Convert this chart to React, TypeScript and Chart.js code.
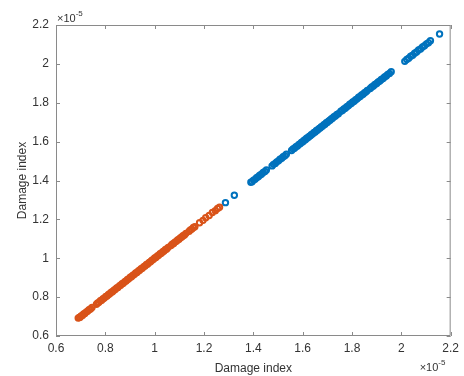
import React, { useEffect, useRef } from "react";
import { Chart, registerables } from "chart.js";

Chart.register(...registerables);

// Values in units of 1e-5
const orangeX = [
  0.690, 0.694, 0.698, 0.702, 0.707, 0.712, 0.717, 0.722, 0.728, 0.734, 0.740, 0.746,
  0.764, 0.769, 0.774, 0.780, 0.785, 0.791, 0.796, 0.802, 0.807, 0.813, 0.818, 0.824,
  0.829, 0.835, 0.840, 0.846, 0.851, 0.857, 0.862, 0.868, 0.873, 0.879, 0.884, 0.890,
  0.895, 0.901, 0.906, 0.912, 0.917, 0.923, 0.928, 0.934, 0.939, 0.945, 0.950, 0.956,
  0.961, 0.967, 0.972, 0.978, 0.983, 0.989, 0.994, 1.000, 1.005, 1.011, 1.016, 1.022,
  1.027, 1.033, 1.038, 1.044, 1.049, 1.055,
  1.066, 1.071, 1.077, 1.082, 1.088, 1.093, 1.099, 1.104, 1.110, 1.115, 1.121, 1.127,
  1.140, 1.145, 1.151, 1.157, 1.163,
  1.182, 1.196, 1.207, 1.221, 1.234, 1.246, 1.255, 1.263,
];
const orangeY = [
  0.692, 0.695, 0.697, 0.703, 0.706, 0.713, 0.716, 0.723, 0.727, 0.735, 0.739, 0.747,
  0.763, 0.770, 0.773, 0.781, 0.784, 0.792, 0.795, 0.803, 0.806, 0.814, 0.817, 0.825,
  0.828, 0.836, 0.839, 0.847, 0.850, 0.858, 0.861, 0.869, 0.872, 0.880, 0.883, 0.891,
  0.894, 0.902, 0.905, 0.913, 0.916, 0.924, 0.927, 0.935, 0.938, 0.946, 0.949, 0.957,
  0.960, 0.968, 0.971, 0.979, 0.982, 0.990, 0.993, 1.001, 1.004, 1.012, 1.015, 1.023,
  1.026, 1.034, 1.037, 1.045, 1.048, 1.056,
  1.065, 1.072, 1.076, 1.083, 1.087, 1.094, 1.098, 1.105, 1.109, 1.116, 1.120, 1.128,
  1.139, 1.146, 1.150, 1.158, 1.162,
  1.183, 1.195, 1.208, 1.220, 1.235, 1.245, 1.256, 1.262,
];

const blueX = [
  1.287, 1.323,
  1.390, 1.395, 1.401, 1.407, 1.413, 1.420, 1.426, 1.433, 1.440, 1.447, 1.453,
  1.476, 1.482, 1.489, 1.495, 1.502, 1.508, 1.515, 1.521, 1.528, 1.534,
  1.555, 1.561, 1.567, 1.573, 1.579, 1.585, 1.590, 1.596, 1.601, 1.606, 1.611, 1.616,
  1.621, 1.626, 1.631, 1.636, 1.641, 1.646, 1.651, 1.656, 1.661, 1.666, 1.671, 1.676,
  1.681, 1.686, 1.691, 1.696, 1.701, 1.706, 1.711, 1.716, 1.721, 1.727, 1.733, 1.739, 1.745,
  1.755, 1.761, 1.767, 1.773, 1.779, 1.785, 1.791, 1.797, 1.803, 1.809, 1.815, 1.821,
  1.827, 1.833, 1.839, 1.845, 1.851, 1.857, 1.862,
  1.874, 1.880, 1.887, 1.893, 1.900, 1.906, 1.913, 1.919, 1.926, 1.932, 1.939, 1.945, 1.952, 1.959,
  2.014, 2.022, 2.030, 2.038, 2.046, 2.054, 2.062, 2.070, 2.078, 2.086, 2.094, 2.102, 2.110, 2.118,
  2.155,
];
const blueY = [
  1.286, 1.324,
  1.391, 1.394, 1.402, 1.406, 1.414, 1.419, 1.427, 1.432, 1.441, 1.446, 1.454,
  1.475, 1.483, 1.488, 1.496, 1.501, 1.509, 1.514, 1.522, 1.527, 1.535,
  1.554, 1.562, 1.566, 1.574, 1.578, 1.586, 1.589, 1.597, 1.600, 1.607, 1.610, 1.617,
  1.620, 1.627, 1.630, 1.637, 1.640, 1.647, 1.650, 1.657, 1.660, 1.667, 1.670, 1.677,
  1.680, 1.687, 1.690, 1.697, 1.700, 1.707, 1.710, 1.717, 1.720, 1.728, 1.732, 1.740, 1.744,
  1.756, 1.760, 1.768, 1.772, 1.780, 1.784, 1.792, 1.796, 1.804, 1.808, 1.816, 1.820,
  1.828, 1.832, 1.840, 1.844, 1.852, 1.856, 1.863,
  1.873, 1.881, 1.886, 1.894, 1.899, 1.907, 1.912, 1.920, 1.925, 1.933, 1.938, 1.946, 1.951, 1.960,
  2.013, 2.023, 2.029, 2.039, 2.045, 2.055, 2.061, 2.071, 2.077, 2.087, 2.093, 2.103, 2.109, 2.119,
  2.154,
];

const axisMin = 0.6;
const axisMax = 2.2;
const tickStep = 0.2;
const axisTitle = "Damage index";
const exponentBase = "\u00d710";
const exponentPower = "-5";

const BLUE = "#0072BD";
const ORANGE = "#D95319";
const AXIS_COLOR = "#8a8a8a";
const TEXT_COLOR = "#333333";
const FONT = "Arial, 'Liberation Sans', Helvetica, sans-serif";

const toPoints = (xs: number[], ys: number[]) => xs.map((x, i) => ({ x, y: ys[i] }));

const boxTicksPlugin = {
  id: "boxTicks",
  afterDraw(chart: any) {
    const { ctx, chartArea } = chart;
    const { left, right, top, bottom } = chartArea;
    const xs = chart.scales.x;
    const ys = chart.scales.y;
    const len = 4;
    ctx.save();
    ctx.strokeStyle = AXIS_COLOR;
    ctx.lineWidth = 1;
    ctx.beginPath();
    ctx.rect(left + 0.5, top + 0.5, right - left - 1, bottom - top - 1);
    xs.ticks.forEach((t: any) => {
      const px = Math.round(xs.getPixelForValue(t.value)) + 0.5;
      ctx.moveTo(px, bottom);
      ctx.lineTo(px, bottom - len);
      ctx.moveTo(px, top);
      ctx.lineTo(px, top + len);
    });
    ys.ticks.forEach((t: any) => {
      const py = Math.round(ys.getPixelForValue(t.value)) + 0.5;
      ctx.moveTo(left, py);
      ctx.lineTo(left + len, py);
      ctx.moveTo(right, py);
      ctx.lineTo(right - len, py);
    });
    ctx.stroke();

    // exponent annotations
    ctx.fillStyle = TEXT_COLOR;
    ctx.textBaseline = "middle";
    ctx.textAlign = "left";
    const drawExp = (x: number, y: number) => {
      ctx.font = `11px ${FONT}`;
      ctx.fillText(exponentBase, x, y);
      const w = ctx.measureText(exponentBase).width;
      ctx.font = `8px ${FONT}`;
      ctx.fillText(exponentPower, x + w, y - 5);
    };
    drawExp(left + 1, top - 6);
    drawExp(right - 31, bottom + 32);
    ctx.restore();
  },
};

export default function App() {
  const ref = useRef<HTMLCanvasElement | null>(null);

  useEffect(() => {
    if (!ref.current) return;
    const fmt = (v: any) => String(parseFloat(Number(v).toFixed(1)));
    const chart = new Chart(ref.current, {
      type: "scatter",
      data: {
        datasets: [
          {
            label: "orange",
            data: toPoints(orangeX, orangeY),
            borderColor: ORANGE,
            backgroundColor: "rgba(255,255,255,0)",
            pointRadius: 2.7,
            pointBorderWidth: 2,
          },
          {
            label: "blue",
            data: toPoints(blueX, blueY),
            borderColor: BLUE,
            backgroundColor: "rgba(255,255,255,0)",
            pointRadius: 2.7,
            pointBorderWidth: 2,
          },
        ],
      },
      options: {
        responsive: false,
        animation: false,
        devicePixelRatio: 1,
        layout: { padding: { top: 25, right: 7, left: 0, bottom: 0 } },
        plugins: {
          legend: { display: false },
          tooltip: { enabled: false },
        },
        scales: {
          x: {
            type: "linear",
            min: axisMin,
            max: axisMax,
            grid: { display: false, drawTicks: false },
            border: { display: false },
            ticks: {
              stepSize: tickStep,
              padding: 5,
              color: TEXT_COLOR,
              font: { family: FONT, size: 12 },
              callback: fmt,
              maxRotation: 0,
              autoSkip: false,
            },
            title: {
              display: true,
              text: axisTitle,
              color: TEXT_COLOR,
              font: { family: FONT, size: 12 },
              padding: { top: 14, bottom: 0 },
            },
            afterFit: (s: any) => {
              s.height = 40;
            },
          },
          y: {
            type: "linear",
            min: axisMin,
            max: axisMax,
            grid: { display: false, drawTicks: false },
            border: { display: false },
            ticks: {
              stepSize: tickStep,
              padding: 7,
              color: TEXT_COLOR,
              font: { family: FONT, size: 12 },
              callback: fmt,
              autoSkip: false,
            },
            title: {
              display: true,
              text: axisTitle,
              color: TEXT_COLOR,
              font: { family: FONT, size: 12 },
              padding: { top: 15, bottom: 0 },
            },
            afterFit: (s: any) => {
              s.width = 56;
            },
          },
        },
      },
      plugins: [boxTicksPlugin],
    });
    return () => chart.destroy();
  }, []);

  return (
    <div style={{ position: "absolute", left: 0, top: 0, width: 464, height: 376, background: "#fff" }}>
      <canvas ref={ref} width={464} height={376} style={{ width: 464, height: 376 }} />
    </div>
  );
}
